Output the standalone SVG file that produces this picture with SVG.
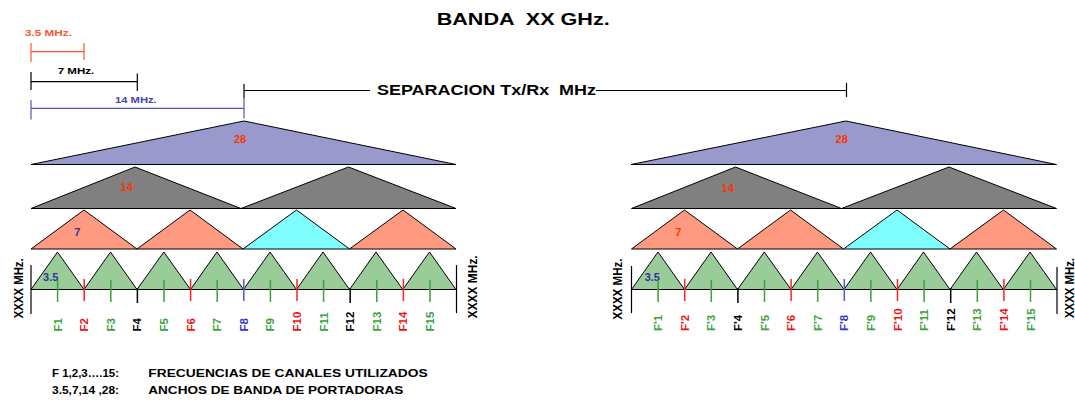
<svg xmlns="http://www.w3.org/2000/svg" width="1075" height="406" viewBox="0 0 1075 406" xml:space="preserve">
<style>
text{font-family:"Liberation Sans",Arial,sans-serif;font-weight:bold;white-space:pre}
.t28{fill:#9999cc;stroke:#000;stroke-width:1}
.t14{fill:#808080;stroke:#000;stroke-width:1}
.t7{fill:#ff9980;stroke:#000;stroke-width:1}
.tc{fill:#80ffff;stroke:#000;stroke-width:1}
.t35{fill:#99cc99;stroke:#000;stroke-width:1}
.ln{stroke:#000;stroke-width:1.2;fill:none}
.g{stroke:#3aa33a;stroke-width:1.5}
.r{stroke:#ff2222;stroke-width:1.5}
.k{stroke:#000;stroke-width:1.5}
.b{stroke:#5555dd;stroke-width:1.5}
.lg{fill:#3aa33a;font-size:11.5px}
.lr{fill:#ee1111;font-size:11.5px}
.lk{fill:#000;font-size:11.5px}
.lb{fill:#3333cc;font-size:11.5px}
.num{font-size:11px;text-anchor:middle}
.red{fill:#ff3300}
.blu{fill:#333399}
.xx{font-size:12.5px;fill:#000}
</style>
<g id="title"><text x="436.7" y="25" font-size="16" textLength="173" lengthAdjust="spacingAndGlyphs">BANDA  XX GHz.</text></g>
<g id="scale-3.5">
<text x="25" y="36" font-size="9.5" fill="#ff5533" textLength="47" lengthAdjust="spacingAndGlyphs">3.5 MHz.</text>
<path d="M31 51.7H84M31 43V62M84 43V60" stroke="#ff5533" stroke-width="1.2" fill="none"/>
</g>
<g id="scale-7">
<text x="57.7" y="73.5" font-size="9.5" fill="#000" textLength="36.6" lengthAdjust="spacingAndGlyphs">7 MHz.</text>
<path d="M31 81.7H137.3M31 72V90M137.3 73.5V91" stroke="#000" stroke-width="1.2" fill="none"/>
</g>
<g id="scale-14">
<text x="115" y="102.7" font-size="9.5" fill="#4444aa" textLength="41.7" lengthAdjust="spacingAndGlyphs">14 MHz.</text>
<path d="M31 108.3H244M31 100V119.5M244 98.3V118.5" stroke="#5555aa" stroke-width="1.2" fill="none"/>
</g>
<g id="separacion">
<path d="M244 84V98.3M244 90.5H370M596 90.5H846.5M846.5 83V97" class="ln"/>
<text x="377" y="95.4" font-size="14" textLength="219" lengthAdjust="spacingAndGlyphs">SEPARACION Tx/Rx  MHz</text>
</g>
<g id="L-28"><polygon class="t28" points="31,164.5 244,121 456,164.5"/><text class="num red" x="240" y="143">28</text></g>
<g id="L-14a"><polygon class="t14" points="31,208.5 135,167 241,208.5"/><text class="num red" x="126.7" y="191.3">14</text></g>
<g id="L-14b"><polygon class="t14" points="241,208.5 348.5,167 456,208.5"/></g>
<g id="L-7a"><polygon class="t7" points="31,249 84,210 137,249"/><text class="num blu" x="77.3" y="236.3">7</text></g>
<g id="L-7b"><polygon class="t7" points="137,249 190,210 243,249"/></g>
<g id="L-7c"><polygon class="tc" points="243,249 296.5,210 349.5,249"/></g>
<g id="L-7d"><polygon class="t7" points="349.5,249 403,210 456,249"/></g>
<g id="L-35a"><polygon class="t35" points="31,289.5 57.5,252 84,289.5"/><text class="num blu" x="50.7" y="280.5">3.5</text></g>
<g id="L-35b"><polygon class="t35" points="84,289.5 110.5,252 137,289.5"/></g>
<g id="L-35c"><polygon class="t35" points="137,289.5 163.8,252 190.5,289.5"/></g>
<g id="L-35d"><polygon class="t35" points="190.5,289.5 217,252 243.5,289.5"/></g>
<g id="L-35e"><polygon class="t35" points="243.5,289.5 270,252 296.5,289.5"/></g>
<g id="L-35f"><polygon class="t35" points="296.5,289.5 323,252 349.5,289.5"/></g>
<g id="L-35g"><polygon class="t35" points="349.5,289.5 376,252 402.8,289.5"/></g>
<g id="L-35h"><polygon class="t35" points="402.8,289.5 429.5,252 456,289.5"/></g>
<g id="R-28"><polygon class="t28" points="631,164.5 846,121 1056.5,164.5"/><text class="num red" x="841.7" y="143">28</text></g>
<g transform="translate(600.5,0)">
<g id="R-14a"><polygon class="t14" points="31,208.5 135,167 241,208.5"/><text class="num red" x="127.2" y="191.5">14</text></g>
<g id="R-14b"><polygon class="t14" points="241,208.5 348.5,167 456,208.5"/></g>
<g id="R-7a"><polygon class="t7" points="31,249 84,210 137,249"/><text class="num red" x="77.8" y="236.3">7</text></g>
<g id="R-7b"><polygon class="t7" points="137,249 190,210 243,249"/></g>
<g id="R-7c"><polygon class="tc" points="243,249 296.5,210 349.5,249"/></g>
<g id="R-7d"><polygon class="t7" points="349.5,249 403,210 456,249"/></g>
<g id="R-35a"><polygon class="t35" points="31,289.5 57.5,252 84,289.5"/><text class="num blu" x="51.8" y="280.5">3.5</text></g>
<g id="R-35b"><polygon class="t35" points="84,289.5 110.5,252 137,289.5"/></g>
<g id="R-35c"><polygon class="t35" points="137,289.5 163.8,252 190.5,289.5"/></g>
<g id="R-35d"><polygon class="t35" points="190.5,289.5 217,252 243.5,289.5"/></g>
<g id="R-35e"><polygon class="t35" points="243.5,289.5 270,252 296.5,289.5"/></g>
<g id="R-35f"><polygon class="t35" points="296.5,289.5 323,252 349.5,289.5"/></g>
<g id="R-35g"><polygon class="t35" points="349.5,289.5 376,252 402.8,289.5"/></g>
<g id="R-35h"><polygon class="t35" points="402.8,289.5 429.5,252 456,289.5"/></g>
</g>
<g id="connectors">
<g id="L-axis">
<path d="M31 289.5H456M31 265V314M456.5 265V313" class="ln"/>
<path d="M57.6 280V302M110.8 280V302M164 280V302M217.2 280V302M270.4 280V302M323.6 280V302M376.8 280V302M430 280V302" class="g"/>
<path d="M84.2 279V301M190.6 279V301M297 279V301M403.4 279V301" class="r"/>
<path d="M137.4 288V303M350.2 288V303" class="k"/>
<path d="M243.8 279V301" class="b"/>
</g>
<g id="R-axis" transform="translate(600.5,0)">
<path d="M31 289.5H456M31 266V313M456.5 267V314" class="ln"/>
<path d="M57.6 280V302M110.8 280V302M164 280V302M217.2 280V302M270.4 280V302M323.6 280V302M376.8 280V302M430 280V302" class="g"/>
<path d="M84.2 279V301M190.6 279V301M297 279V301M403.4 279V301" class="r"/>
<path d="M137.4 288V303M350.2 288V303" class="k"/>
<path d="M243.8 279V301" class="b"/>
</g>
</g>
<g id="L-labels">
<text class="lg" transform="translate(61.6,331.5) rotate(-90)">F1</text>
<text class="lr" transform="translate(88.2,331.5) rotate(-90)">F2</text>
<text class="lg" transform="translate(114.8,331.5) rotate(-90)">F3</text>
<text class="lk" transform="translate(141.4,331.5) rotate(-90)">F4</text>
<text class="lg" transform="translate(168,331.5) rotate(-90)">F5</text>
<text class="lr" transform="translate(194.6,331.5) rotate(-90)">F6</text>
<text class="lg" transform="translate(221.2,331.5) rotate(-90)">F7</text>
<text class="lb" transform="translate(247.8,331.5) rotate(-90)">F8</text>
<text class="lg" transform="translate(274.4,331.5) rotate(-90)">F9</text>
<text class="lr" transform="translate(301,331.5) rotate(-90)">F10</text>
<text class="lg" transform="translate(327.6,331.5) rotate(-90)">F11</text>
<text class="lk" transform="translate(354.2,331.5) rotate(-90)">F12</text>
<text class="lg" transform="translate(380.8,331.5) rotate(-90)">F13</text>
<text class="lr" transform="translate(407.4,331.5) rotate(-90)">F14</text>
<text class="lg" transform="translate(434,331.5) rotate(-90)">F15</text>
</g>
<g id="R-labels" transform="translate(600.5,0)">
<text class="lg" transform="translate(61.6,331) rotate(-90)">F'1</text>
<text class="lr" transform="translate(88.2,331) rotate(-90)">F'2</text>
<text class="lg" transform="translate(114.8,331) rotate(-90)">F'3</text>
<text class="lk" transform="translate(141.4,331) rotate(-90)">F'4</text>
<text class="lg" transform="translate(168,331) rotate(-90)">F'5</text>
<text class="lr" transform="translate(194.6,331) rotate(-90)">F'6</text>
<text class="lg" transform="translate(221.2,331) rotate(-90)">F'7</text>
<text class="lb" transform="translate(247.8,331) rotate(-90)">F'8</text>
<text class="lg" transform="translate(274.4,331) rotate(-90)">F'9</text>
<text class="lr" transform="translate(301,331) rotate(-90)">F'10</text>
<text class="lg" transform="translate(327.6,331) rotate(-90)">F'11</text>
<text class="lk" transform="translate(354.2,331) rotate(-90)">F'12</text>
<text class="lg" transform="translate(380.8,331) rotate(-90)">F'13</text>
<text class="lr" transform="translate(407.4,331) rotate(-90)">F'14</text>
<text class="lg" transform="translate(434,331) rotate(-90)">F'15</text>
</g>
<g id="xxxx-labels">
<text class="xx" transform="translate(22.5,318.3) rotate(-90)" textLength="60" lengthAdjust="spacingAndGlyphs">XXXX MHz.</text>
<text class="xx" transform="translate(476.5,318.3) rotate(-90)" textLength="63" lengthAdjust="spacingAndGlyphs">XXXX MHz.</text>
<text class="xx" transform="translate(621.5,319.5) rotate(-90)" textLength="61" lengthAdjust="spacingAndGlyphs">XXXX MHz.</text>
<text class="xx" transform="translate(1073.5,318) rotate(-90)" textLength="60" lengthAdjust="spacingAndGlyphs">XXXX MHz.</text>
</g>
<g id="legend">
<text x="52" y="376.5" font-size="11.5" textLength="67" lengthAdjust="spacingAndGlyphs">F 1,2,3….15:</text>
<text x="148.3" y="376.5" font-size="11.5" textLength="279.3" lengthAdjust="spacingAndGlyphs">FRECUENCIAS DE CANALES UTILIZADOS</text>
<text x="52" y="394.3" font-size="11.5" textLength="67" lengthAdjust="spacingAndGlyphs">3.5,7,14 ,28:</text>
<text x="148.3" y="394.3" font-size="11.5" textLength="255" lengthAdjust="spacingAndGlyphs">ANCHOS DE BANDA DE PORTADORAS</text>
</g>
</svg>
